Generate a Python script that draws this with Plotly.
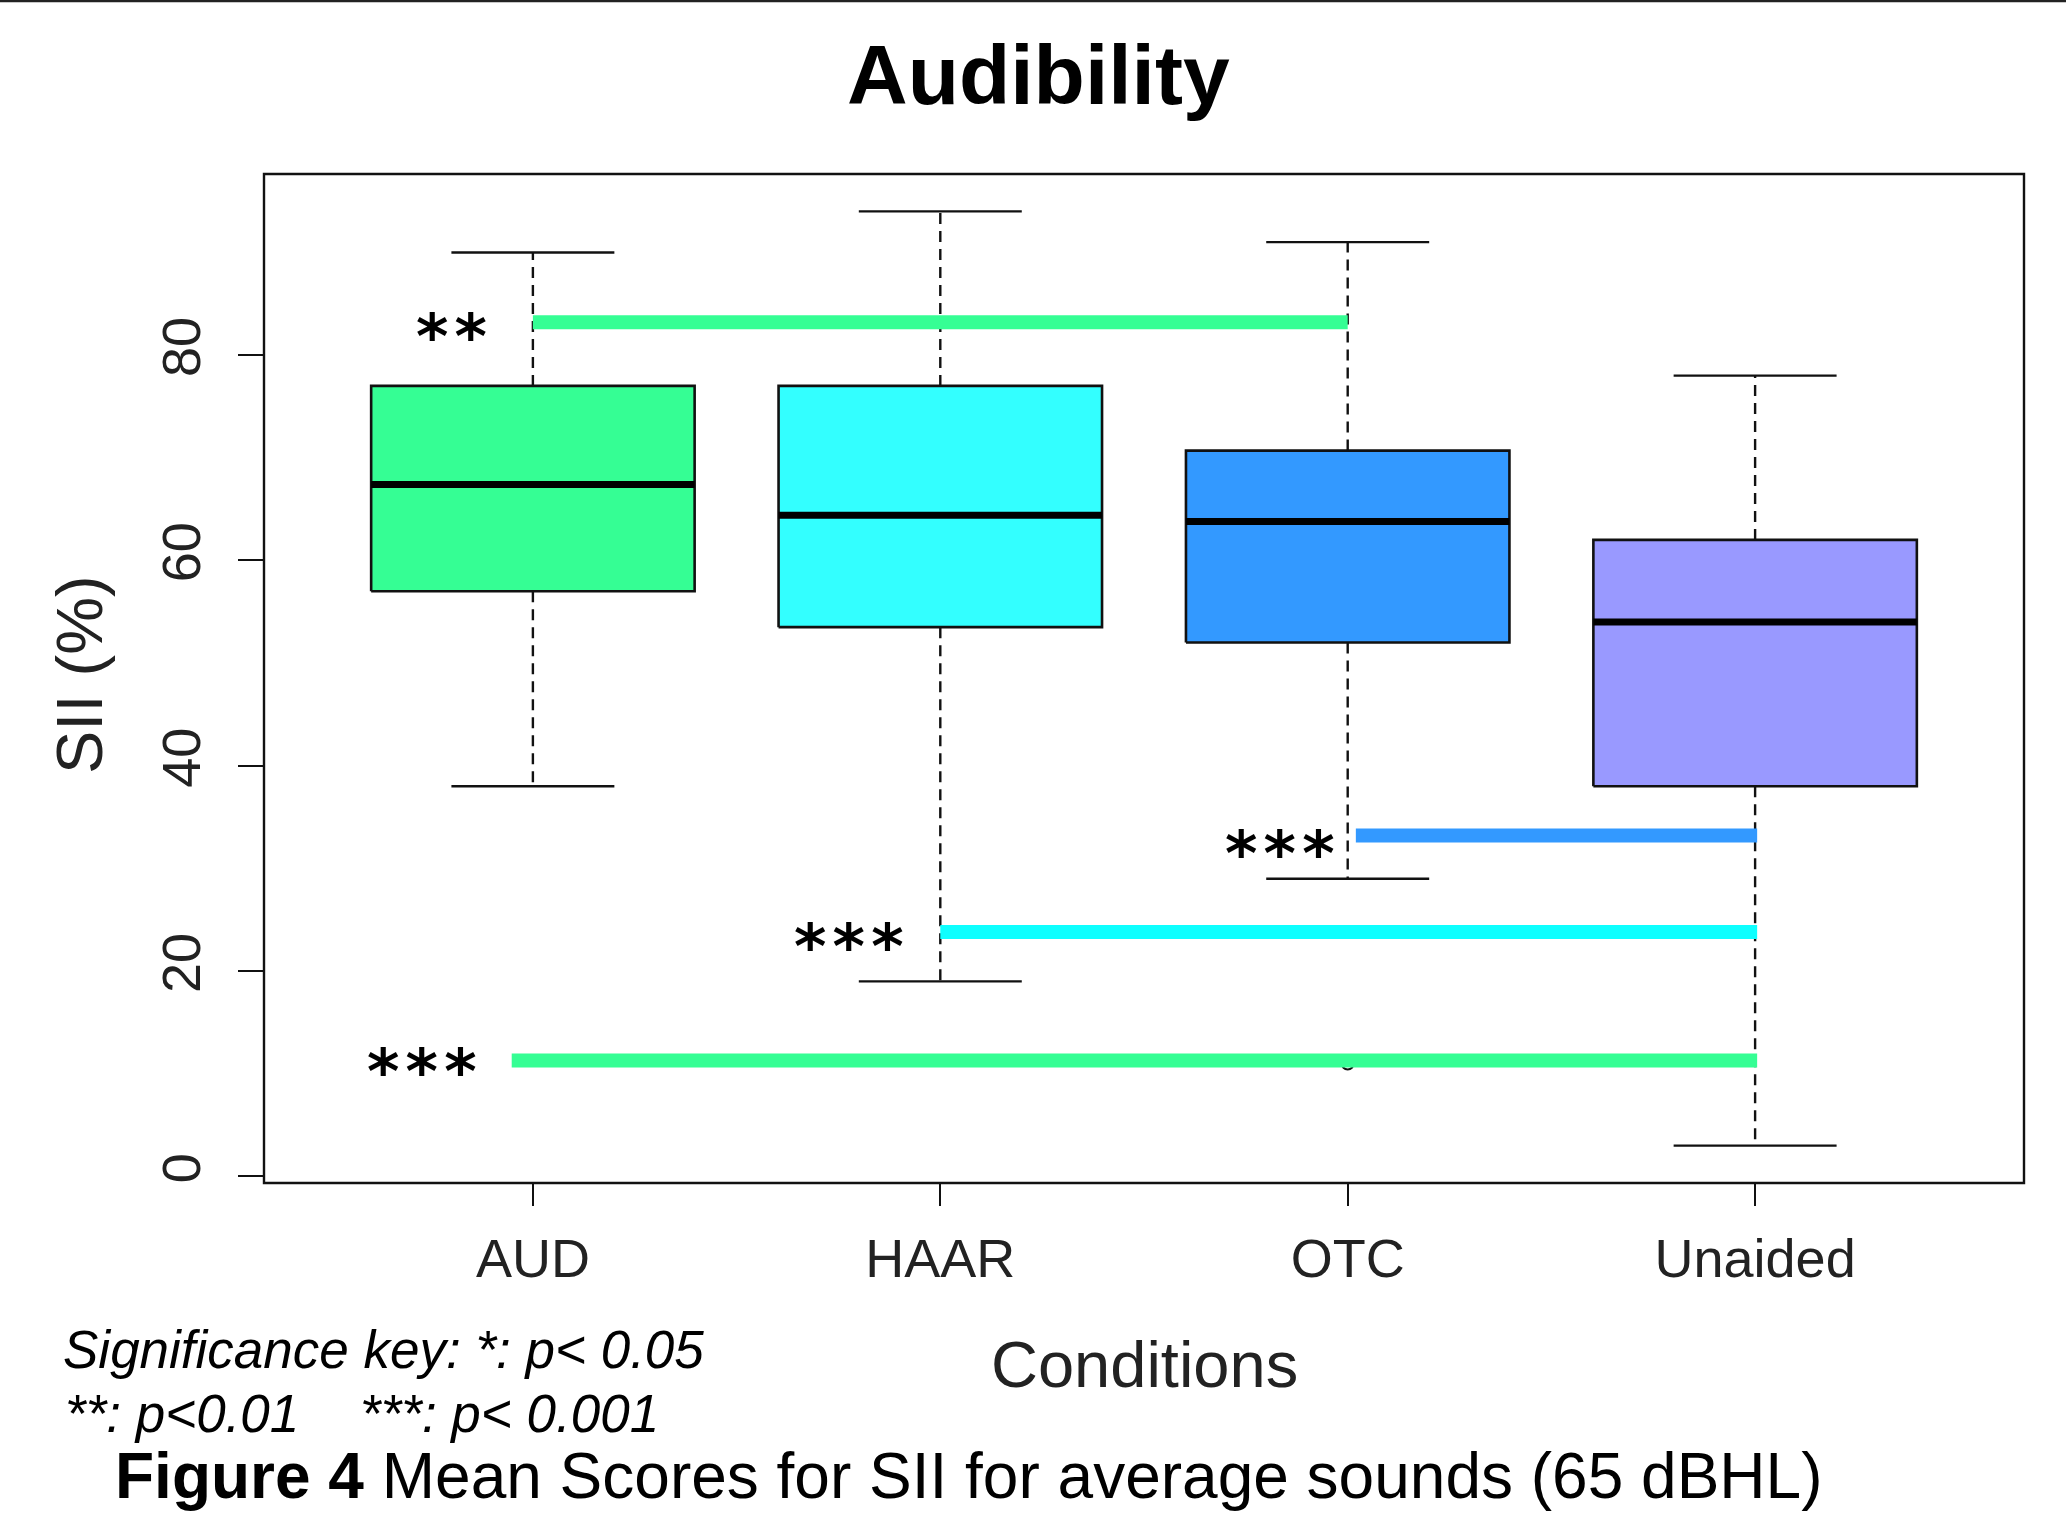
import plotly.graph_objects as go

# ---- data -------------------------------------------------------------
categories = ["AUD", "HAAR", "OTC", "Unaided"]
whisker_low = [38, 19, 29, 3]
q1 = [57, 53.5, 52, 38]
median = [67.4, 64.4, 63.8, 54]
q3 = [77, 77, 70.7, 62]
whisker_high = [90, 94, 91, 78]
box_colors = ["#35FE94", "#33FFFF", "#3399FF", "#9999FF"]

outlier_group = ["OTC"]
outlier_value = [11]

# pairwise comparisons drawn as coloured bars with significance stars
sig_start = [1.0, 3.02, 2.0, 0.948]
sig_end = [3.0, 4.005, 4.005, 4.005]
sig_y = [83.2, 33.2, 23.8, 11.3]
sig_colors = ["#35FE94", "#3399FF", "#0EFFFF", "#35FE94"]
sig_labels = ["**", "***", "***", "***"]
sig_label_x = [0.80, 2.835, 1.776, 0.727]
sig_label_y = [82.8, 32.4, 23.4, 11.2]

y_ticks = [0, 20, 40, 60, 80]

# ---- geometry ---------------------------------------------------------
W, H = 2066, 1531
L, R, T, B = 264, 2024, 174, 1183
BOX_HW = 0.397
CAP_HW = 0.2


def px(xpix):
    return (xpix - L) / (R - L)


def py(ypix):
    return (B - ypix) / (B - T)


fig = go.Figure()
xpos = list(range(1, len(categories) + 1))

for i, x in enumerate(xpos):
    # box body
    fig.add_trace(go.Scatter(
        x=[x - BOX_HW, x + BOX_HW, x + BOX_HW, x - BOX_HW, x - BOX_HW],
        y=[q1[i], q1[i], q3[i], q3[i], q1[i]],
        mode="lines", fill="toself", fillcolor=box_colors[i],
        line=dict(color="#111111", width=2.6), hoverinfo="skip", showlegend=False))
    # median
    fig.add_trace(go.Scatter(
        x=[x - BOX_HW, x + BOX_HW], y=[median[i], median[i]],
        mode="lines", line=dict(color="#000000", width=7),
        hoverinfo="skip", showlegend=False))
    # dashed whiskers
    for a, b in ((q3[i], whisker_high[i]), (q1[i], whisker_low[i])):
        fig.add_trace(go.Scatter(
            x=[x, x], y=[a, b], mode="lines",
            line=dict(color="#111111", width=2.4, dash="11px,7px"),
            hoverinfo="skip", showlegend=False))
    # whisker caps
    for v in (whisker_high[i], whisker_low[i]):
        fig.add_trace(go.Scatter(
            x=[x - CAP_HW, x + CAP_HW], y=[v, v], mode="lines",
            line=dict(color="#111111", width=2.4),
            hoverinfo="skip", showlegend=False))

# outliers
fig.add_trace(go.Scatter(
    x=[categories.index(g) + 1 for g in outlier_group], y=outlier_value,
    mode="markers",
    marker=dict(symbol="circle-open", size=12, color="#111111", line=dict(width=2)),
    hoverinfo="skip", showlegend=False))

# significance bars
for i in range(len(sig_y)):
    fig.add_trace(go.Scatter(
        x=[sig_start[i], sig_end[i]], y=[sig_y[i], sig_y[i]], mode="lines",
        line=dict(color=sig_colors[i], width=14),
        hoverinfo="skip", showlegend=False))

annotations = []
for i in range(len(sig_labels)):
    # stars separated by hair spaces
    stars = "&#8202;".join(sig_labels[i])
    annotations.append(dict(
        x=sig_label_x[i], y=sig_label_y[i], xref="x", yref="y",
        text="<b>" + stars + "</b>", showarrow=False,
        xanchor="center", yanchor="middle", yshift=-10,
        font=dict(family="DejaVu Sans", size=62, color="#000000")))

KEY_FONT = dict(family="Liberation Sans", size=53, color="#000000")

# title, axis titles, key and caption
annotations += [
    dict(x=px(1038), y=py(75), xref="paper", yref="paper", text="<b>Audibility</b>",
         showarrow=False, xanchor="center", yanchor="middle",
         font=dict(family="Liberation Sans", size=84, color="#000000")),
    dict(x=px(79), y=py(675), xref="paper", yref="paper", text="SII (%)",
         showarrow=False, xanchor="center", yanchor="middle", textangle=-90,
         font=dict(family="Liberation Sans", size=65, color="#222222")),
    dict(x=px(1144), y=py(1364), xref="paper", yref="paper", text="Conditions",
         showarrow=False, xanchor="center", yanchor="middle",
         font=dict(family="Liberation Sans", size=65, color="#222222")),
    dict(x=px(61), y=py(1349), xref="paper", yref="paper",
         text="<i>Significance key: *: p&lt; 0.05</i>",
         showarrow=False, xanchor="left", yanchor="middle", font=KEY_FONT),
    dict(x=px(63), y=py(1413), xref="paper", yref="paper",
         text="<i>**: p&lt;0.01</i>",
         showarrow=False, xanchor="left", yanchor="middle", font=KEY_FONT),
    dict(x=px(358), y=py(1413), xref="paper", yref="paper",
         text="<i>***: p&lt; 0.001</i>",
         showarrow=False, xanchor="left", yanchor="middle", font=KEY_FONT),
    dict(x=px(113), y=py(1476), xref="paper", yref="paper",
         text="<b>Figure 4</b> Mean Scores for SII for average sounds (65 dBHL)",
         showarrow=False, xanchor="left", yanchor="middle",
         font=dict(family="Liberation Sans", size=64, color="#000000")),
]

shapes = [
    # plot frame
    dict(type="rect", xref="paper", yref="paper", x0=0, x1=1, y0=0, y1=1,
         line=dict(color="#111111", width=2.4), fillcolor="rgba(0,0,0,0)", layer="above"),
    # rule along the top of the page
    dict(type="line", xref="paper", yref="paper", x0=px(0), x1=px(W), y0=py(1), y1=py(1),
         line=dict(color="#222222", width=2.5)),
]

fig.update_layout(
    width=W, height=H,
    margin=dict(l=L, r=W - R, t=T, b=H - B, pad=0),
    paper_bgcolor="#FFFFFF", plot_bgcolor="#FFFFFF",
    showlegend=False,
    annotations=annotations,
    shapes=shapes,
    xaxis=dict(
        range=[0.34, 4.66], tickvals=xpos, ticktext=categories,
        ticks="outside", ticklen=22, tickwidth=2.4, tickcolor="#111111",
        showgrid=False, zeroline=False, showline=False,
        tickfont=dict(family="Liberation Sans", size=54, color="#222222"),
        ticklabelstandoff=6,
    ),
    yaxis=dict(
        range=[-0.64, 97.64], tickvals=y_ticks, ticktext=[str(v) for v in y_ticks],
        ticks="outside", ticklen=25, tickwidth=2.4, tickcolor="#111111",
        tickangle=-90,
        showgrid=False, zeroline=False, showline=False,
        tickfont=dict(family="Liberation Sans", size=54, color="#222222"),
        ticklabelstandoff=16,
    ),
)

fig.write_html("out.html")
